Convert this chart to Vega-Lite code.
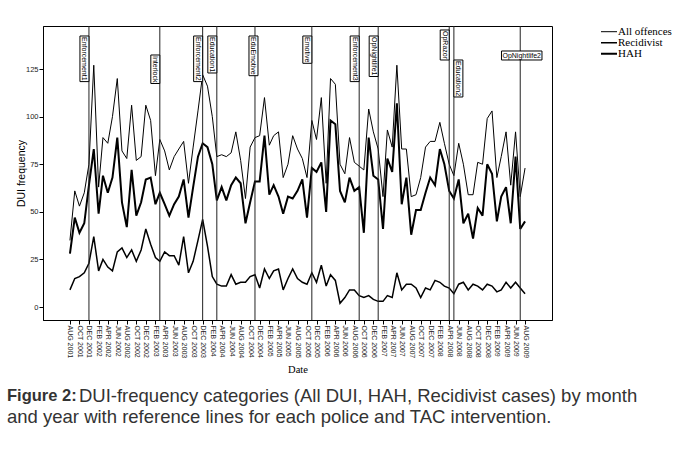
{
  "$schema": "https://vega.github.io/schema/vega-lite/v6.json",
  "width": 509,
  "height": 294,
  "autosize": "none",
  "padding": {"left": 43, "top": 26, "right": 124, "bottom": 130},
  "background": "white",
  "config": {
    "view": {"stroke": "#000", "strokeWidth": 1},
    "font": "Liberation Sans"
  },
  "title": {
    "text": "Figure 2:",
    "subtitle": ["\u200b\u00a0\u00a0\u00a0\u00a0\u00a0\u00a0\u00a0\u00a0\u00a0\u00a0\u00a0\u00a0\u00a0\u00a0DUI-frequency categories (All DUI, HAH, Recidivist cases) by month", "and year with reference lines for each police and TAC intervention."],
    "orient": "bottom",
    "anchor": "start",
    "frame": "group",
    "dx": -36,
    "offset": 13,
    "font": "Liberation Sans",
    "fontSize": 16.5,
    "fontWeight": "bold",
    "color": "#333",
    "subtitleFont": "Liberation Sans",
    "subtitleFontSize": 18.5,
    "subtitleFontWeight": "normal",
    "subtitleColor": "#333",
    "subtitlePadding": -18.1,
    "subtitleLineHeight": 21
  },
  "datasets": {
    "dui": [
      {"month": "2001-08-01", "All offences": 35, "Recidivist": 9, "HAH": 28},
      {"month": "2001-09-01", "All offences": 61, "Recidivist": 15, "HAH": 47},
      {"month": "2001-10-01", "All offences": 53, "Recidivist": 16, "HAH": 39},
      {"month": "2001-11-01", "All offences": 60, "Recidivist": 18, "HAH": 44},
      {"month": "2001-12-01", "All offences": 75, "Recidivist": 23, "HAH": 64},
      {"month": "2002-01-01", "All offences": 127, "Recidivist": 37, "HAH": 83},
      {"month": "2002-02-01", "All offences": 63, "Recidivist": 19, "HAH": 49},
      {"month": "2002-03-01", "All offences": 89, "Recidivist": 25, "HAH": 69},
      {"month": "2002-04-01", "All offences": 86, "Recidivist": 21, "HAH": 60},
      {"month": "2002-05-01", "All offences": 100, "Recidivist": 19, "HAH": 68},
      {"month": "2002-06-01", "All offences": 120, "Recidivist": 29, "HAH": 89},
      {"month": "2002-07-01", "All offences": 82, "Recidivist": 31, "HAH": 55},
      {"month": "2002-08-01", "All offences": 78, "Recidivist": 26, "HAH": 42},
      {"month": "2002-09-01", "All offences": 106, "Recidivist": 30, "HAH": 72},
      {"month": "2002-10-01", "All offences": 77, "Recidivist": 24, "HAH": 48},
      {"month": "2002-11-01", "All offences": 79, "Recidivist": 30, "HAH": 55},
      {"month": "2002-12-01", "All offences": 106, "Recidivist": 41, "HAH": 67},
      {"month": "2003-01-01", "All offences": 98, "Recidivist": 33, "HAH": 68},
      {"month": "2003-02-01", "All offences": 69, "Recidivist": 26, "HAH": 54},
      {"month": "2003-03-01", "All offences": 88, "Recidivist": 24, "HAH": 60},
      {"month": "2003-04-01", "All offences": 82, "Recidivist": 29, "HAH": 54},
      {"month": "2003-05-01", "All offences": 72, "Recidivist": 27, "HAH": 48},
      {"month": "2003-06-01", "All offences": 79, "Recidivist": 27, "HAH": 54},
      {"month": "2003-07-01", "All offences": 83, "Recidivist": 22, "HAH": 58},
      {"month": "2003-08-01", "All offences": 87, "Recidivist": 37, "HAH": 67},
      {"month": "2003-09-01", "All offences": 65, "Recidivist": 18, "HAH": 47},
      {"month": "2003-10-01", "All offences": 84, "Recidivist": 24, "HAH": 63},
      {"month": "2003-11-01", "All offences": 103, "Recidivist": 35, "HAH": 79},
      {"month": "2003-12-01", "All offences": 122, "Recidivist": 46, "HAH": 86},
      {"month": "2004-01-01", "All offences": 116, "Recidivist": 32, "HAH": 84},
      {"month": "2004-02-01", "All offences": 100, "Recidivist": 16, "HAH": 75},
      {"month": "2004-03-01", "All offences": 79, "Recidivist": 12, "HAH": 56},
      {"month": "2004-04-01", "All offences": 80, "Recidivist": 11, "HAH": 63},
      {"month": "2004-05-01", "All offences": 79, "Recidivist": 11, "HAH": 56},
      {"month": "2004-06-01", "All offences": 81, "Recidivist": 17, "HAH": 64},
      {"month": "2004-07-01", "All offences": 92, "Recidivist": 12, "HAH": 68},
      {"month": "2004-08-01", "All offences": 77, "Recidivist": 13, "HAH": 65},
      {"month": "2004-09-01", "All offences": 57, "Recidivist": 13, "HAH": 44},
      {"month": "2004-10-01", "All offences": 84, "Recidivist": 16, "HAH": 55},
      {"month": "2004-11-01", "All offences": 89, "Recidivist": 17, "HAH": 66},
      {"month": "2004-12-01", "All offences": 90, "Recidivist": 10, "HAH": 66},
      {"month": "2005-01-01", "All offences": 110, "Recidivist": 20, "HAH": 90},
      {"month": "2005-02-01", "All offences": 85, "Recidivist": 15, "HAH": 59},
      {"month": "2005-03-01", "All offences": 90, "Recidivist": 19, "HAH": 64},
      {"month": "2005-04-01", "All offences": 92, "Recidivist": 20, "HAH": 58},
      {"month": "2005-05-01", "All offences": 68, "Recidivist": 9, "HAH": 49},
      {"month": "2005-06-01", "All offences": 75, "Recidivist": 15, "HAH": 58},
      {"month": "2005-07-01", "All offences": 90, "Recidivist": 20, "HAH": 57},
      {"month": "2005-08-01", "All offences": 83, "Recidivist": 15, "HAH": 61},
      {"month": "2005-09-01", "All offences": 78, "Recidivist": 13, "HAH": 67},
      {"month": "2005-10-01", "All offences": 68, "Recidivist": 12, "HAH": 47},
      {"month": "2005-11-01", "All offences": 98, "Recidivist": 18, "HAH": 73},
      {"month": "2005-12-01", "All offences": 88, "Recidivist": 13, "HAH": 71},
      {"month": "2006-01-01", "All offences": 110, "Recidivist": 22, "HAH": 76},
      {"month": "2006-02-01", "All offences": 65, "Recidivist": 11, "HAH": 50},
      {"month": "2006-03-01", "All offences": 120, "Recidivist": 17, "HAH": 98},
      {"month": "2006-04-01", "All offences": 117, "Recidivist": 14, "HAH": 96},
      {"month": "2006-05-01", "All offences": 75, "Recidivist": 2, "HAH": 61},
      {"month": "2006-06-01", "All offences": 70, "Recidivist": 5, "HAH": 55},
      {"month": "2006-07-01", "All offences": 89, "Recidivist": 9, "HAH": 68},
      {"month": "2006-08-01", "All offences": 76, "Recidivist": 9, "HAH": 61},
      {"month": "2006-09-01", "All offences": 74, "Recidivist": 6, "HAH": 63},
      {"month": "2006-10-01", "All offences": 72, "Recidivist": 5, "HAH": 39},
      {"month": "2006-11-01", "All offences": 104, "Recidivist": 6, "HAH": 89},
      {"month": "2006-12-01", "All offences": 92, "Recidivist": 4, "HAH": 69},
      {"month": "2007-01-01", "All offences": 83, "Recidivist": 3, "HAH": 67},
      {"month": "2007-02-01", "All offences": 58, "Recidivist": 3, "HAH": 41},
      {"month": "2007-03-01", "All offences": 93, "Recidivist": 6, "HAH": 78},
      {"month": "2007-04-01", "All offences": 84, "Recidivist": 5, "HAH": 71},
      {"month": "2007-05-01", "All offences": 127, "Recidivist": 18, "HAH": 107},
      {"month": "2007-06-01", "All offences": 83, "Recidivist": 9, "HAH": 54},
      {"month": "2007-07-01", "All offences": 83, "Recidivist": 12, "HAH": 68},
      {"month": "2007-08-01", "All offences": 58, "Recidivist": 12, "HAH": 38},
      {"month": "2007-09-01", "All offences": 59, "Recidivist": 10, "HAH": 51},
      {"month": "2007-10-01", "All offences": 68, "Recidivist": 5, "HAH": 51},
      {"month": "2007-11-01", "All offences": 84, "Recidivist": 10, "HAH": 60},
      {"month": "2007-12-01", "All offences": 87, "Recidivist": 9, "HAH": 68},
      {"month": "2008-01-01", "All offences": 87, "Recidivist": 14, "HAH": 64},
      {"month": "2008-02-01", "All offences": 97, "Recidivist": 13, "HAH": 83},
      {"month": "2008-03-01", "All offences": 86, "Recidivist": 11, "HAH": 75},
      {"month": "2008-04-01", "All offences": 75, "Recidivist": 10, "HAH": 61},
      {"month": "2008-05-01", "All offences": 69, "Recidivist": 7, "HAH": 57},
      {"month": "2008-06-01", "All offences": 86, "Recidivist": 12, "HAH": 67},
      {"month": "2008-07-01", "All offences": 75, "Recidivist": 13, "HAH": 44},
      {"month": "2008-08-01", "All offences": 59, "Recidivist": 9, "HAH": 49},
      {"month": "2008-09-01", "All offences": 59, "Recidivist": 12, "HAH": 36},
      {"month": "2008-10-01", "All offences": 76, "Recidivist": 11, "HAH": 52},
      {"month": "2008-11-01", "All offences": 75, "Recidivist": 9, "HAH": 48},
      {"month": "2008-12-01", "All offences": 99, "Recidivist": 12, "HAH": 75},
      {"month": "2009-01-01", "All offences": 103, "Recidivist": 11, "HAH": 70},
      {"month": "2009-02-01", "All offences": 68, "Recidivist": 8, "HAH": 45},
      {"month": "2009-03-01", "All offences": 79, "Recidivist": 9, "HAH": 58},
      {"month": "2009-04-01", "All offences": 92, "Recidivist": 13, "HAH": 63},
      {"month": "2009-05-01", "All offences": 64, "Recidivist": 10, "HAH": 44},
      {"month": "2009-06-01", "All offences": 92, "Recidivist": 13, "HAH": 79},
      {"month": "2009-07-01", "All offences": 58, "Recidivist": 10, "HAH": 41},
      {"month": "2009-08-01", "All offences": 73, "Recidivist": 7, "HAH": 45}
    ],
    "events": [
      {"month": "2001-12-01", "name": "Enforcement1"},
      {"month": "2003-03-01", "name": "Interlock"},
      {"month": "2003-12-01", "name": "Enforcement2"},
      {"month": "2004-03-01", "name": "Education1"},
      {"month": "2004-11-01", "name": "EduEmotive"},
      {"month": "2005-11-01", "name": "Emotive"},
      {"month": "2006-09-01", "name": "Enforcement3"},
      {"month": "2007-01-01", "name": "OpNightlife1"},
      {"month": "2008-04-01", "name": "OpRazor"},
      {"month": "2008-05-01", "name": "Education2"},
      {"month": "2009-07-01", "name": "OpNightlife2"}
    ]
  },
  "encoding": {
    "x": {
      "field": "month",
      "type": "temporal",
      "scale": {"type": "utc", "domain": [{"year": 2001, "month": 2, "date": 9, "utc": true}, {"year": 2010, "month": 1, "date": 21, "utc": true}]},
      "axis": {
        "title": "Date",
        "titleFont": "Liberation Serif",
        "titleFontSize": 10.5,
        "titleFontWeight": "normal",
        "titleColor": "#000",
        "titlePadding": 7,
        "grid": false,
        "values": [
          {"year": 2001, "month": 8, "date": 1, "utc": true}, {"year": 2001, "month": 10, "date": 1, "utc": true}, {"year": 2001, "month": 12, "date": 1, "utc": true},
          {"year": 2002, "month": 2, "date": 1, "utc": true}, {"year": 2002, "month": 4, "date": 1, "utc": true}, {"year": 2002, "month": 6, "date": 1, "utc": true}, {"year": 2002, "month": 8, "date": 1, "utc": true}, {"year": 2002, "month": 10, "date": 1, "utc": true}, {"year": 2002, "month": 12, "date": 1, "utc": true},
          {"year": 2003, "month": 2, "date": 1, "utc": true}, {"year": 2003, "month": 4, "date": 1, "utc": true}, {"year": 2003, "month": 6, "date": 1, "utc": true}, {"year": 2003, "month": 8, "date": 1, "utc": true}, {"year": 2003, "month": 10, "date": 1, "utc": true}, {"year": 2003, "month": 12, "date": 1, "utc": true},
          {"year": 2004, "month": 2, "date": 1, "utc": true}, {"year": 2004, "month": 4, "date": 1, "utc": true}, {"year": 2004, "month": 6, "date": 1, "utc": true}, {"year": 2004, "month": 8, "date": 1, "utc": true}, {"year": 2004, "month": 10, "date": 1, "utc": true}, {"year": 2004, "month": 12, "date": 1, "utc": true},
          {"year": 2005, "month": 2, "date": 1, "utc": true}, {"year": 2005, "month": 4, "date": 1, "utc": true}, {"year": 2005, "month": 6, "date": 1, "utc": true}, {"year": 2005, "month": 8, "date": 1, "utc": true}, {"year": 2005, "month": 10, "date": 1, "utc": true}, {"year": 2005, "month": 12, "date": 1, "utc": true},
          {"year": 2006, "month": 2, "date": 1, "utc": true}, {"year": 2006, "month": 4, "date": 1, "utc": true}, {"year": 2006, "month": 6, "date": 1, "utc": true}, {"year": 2006, "month": 8, "date": 1, "utc": true}, {"year": 2006, "month": 10, "date": 1, "utc": true}, {"year": 2006, "month": 12, "date": 1, "utc": true},
          {"year": 2007, "month": 2, "date": 1, "utc": true}, {"year": 2007, "month": 4, "date": 1, "utc": true}, {"year": 2007, "month": 6, "date": 1, "utc": true}, {"year": 2007, "month": 8, "date": 1, "utc": true}, {"year": 2007, "month": 10, "date": 1, "utc": true}, {"year": 2007, "month": 12, "date": 1, "utc": true},
          {"year": 2008, "month": 2, "date": 1, "utc": true}, {"year": 2008, "month": 4, "date": 1, "utc": true}, {"year": 2008, "month": 6, "date": 1, "utc": true}, {"year": 2008, "month": 8, "date": 1, "utc": true}, {"year": 2008, "month": 10, "date": 1, "utc": true}, {"year": 2008, "month": 12, "date": 1, "utc": true},
          {"year": 2009, "month": 2, "date": 1, "utc": true}, {"year": 2009, "month": 4, "date": 1, "utc": true}, {"year": 2009, "month": 6, "date": 1, "utc": true}, {"year": 2009, "month": 8, "date": 1, "utc": true}
        ],
        "labelExpr": "upper(utcFormat(datum.value, '%b %Y'))",
        "labelAngle": 90,
        "labelAlign": "left",
        "labelBaseline": "middle",
        "labelFont": "Liberation Sans",
        "labelFontSize": 7,
        "labelColor": "#222",
        "labelPadding": 1,
        "labelOverlap": false,
        "labelFlush": false,
        "tickSize": 4,
        "tickColor": "#000",
        "domainColor": "#000"
      }
    }
  },
  "layer": [
    {
      "data": {"name": "dui"},
      "transform": [{"fold": ["All offences", "Recidivist", "HAH"], "as": ["series", "count"]}],
      "mark": {"type": "line", "color": "#000", "strokeMiterLimit": 3},
      "encoding": {
        "y": {
          "field": "count",
          "type": "quantitative",
          "scale": {"domain": [-6.8, 147.6], "nice": false, "zero": false},
          "axis": {
            "title": "DUI frequency",
            "titleFont": "Liberation Sans",
            "titleFontSize": 10.5,
            "titleFontWeight": "normal",
            "titleColor": "#000",
            "titlePadding": -1,
            "values": [0, 25, 50, 75, 100, 125],
            "grid": false,
            "labelFont": "Liberation Sans",
            "labelFontSize": 7.5,
            "labelColor": "#222",
            "labelPadding": 1,
            "tickSize": 4,
            "tickColor": "#000",
            "domainColor": "#000"
          }
        },
        "strokeWidth": {
          "field": "series",
          "type": "ordinal",
          "scale": {"domain": ["All offences", "Recidivist", "HAH"], "range": [1, 2, 2.8]},
          "legend": {
            "orient": "none",
            "legendX": 557,
            "legendY": 0.7,
            "title": null,
            "symbolType": "stroke",
            "symbolSize": 256,
            "symbolStrokeColor": "#000",
            "labelFont": "Liberation Serif",
            "labelFontSize": 11,
            "labelColor": "#000",
            "labelOffset": 0,
            "clipHeight": 10,
            "rowPadding": 0,
            "padding": 0
          }
        }
      }
    },
    {
      "data": {"name": "events"},
      "mark": {"type": "rule", "color": "#222", "strokeWidth": 1},
      "encoding": {}
    },
    {
      "data": {"name": "events"},
      "mark": {"type": "point", "filled": true, "fill": "#fff", "stroke": "#000", "strokeWidth": 1, "opacity": 1, "size": 400},
      "encoding": {
        "y": {"datum": 145.5},
        "shape": {
          "field": "name",
          "type": "nominal",
          "legend": null,
          "scale": {
            "domain": ["Enforcement1", "Interlock", "Enforcement2", "Education1", "EduEmotive", "Emotive", "Enforcement3", "OpNightlife1", "OpRazor", "Education2", "OpNightlife2"],
            "range": [
              "M-0.9,0.6L0,0.6L0,5.16L-0.9,5.16Z",
              "M-0.9,2.5L0,2.5L0,5.35L-0.9,5.35Z",
              "M-0.9,0.6L0,0.6L0,5.16L-0.9,5.16Z",
              "M-0.9,0.6L0,0.6L0,4.3L-0.9,4.3Z",
              "M-0.6,0.6L0.3,0.6L0.3,4.57L-0.6,4.57Z",
              "M-0.9,0.6L0,0.6L0,3.33L-0.9,3.33Z",
              "M-0.9,0.6L0,0.6L0,5.16L-0.9,5.16Z",
              "M-0.9,0.6L0,0.6L0,4.65L-0.9,4.65Z",
              "M-0.9,0L0,0L0,3L-0.9,3Z",
              "M0,3L0.9,3L0.9,6.7L0,6.7Z",
              "M-1.875,2.1L2.175,2.1L2.175,3L-1.875,3Z"
            ]
          }
        }
      }
    },
    {
      "data": {"name": "events"},
      "transform": [{"filter": {"field": "name", "oneOf": ["Enforcement1", "Enforcement2", "Education1", "Emotive", "Enforcement3", "OpNightlife1"]}}],
      "mark": {"type": "text", "angle": 90, "align": "left", "baseline": "middle", "dx": 1, "dy": 4.5, "font": "Liberation Sans", "fontSize": 7, "color": "#000"},
      "encoding": {"y": {"datum": 142.35}, "text": {"field": "name"}}
    },
    {
      "data": {"name": "events"},
      "transform": [{"filter": {"field": "name", "equal": "OpRazor"}}],
      "mark": {"type": "text", "angle": 90, "align": "left", "baseline": "middle", "dx": 1, "dy": 4.5, "font": "Liberation Sans", "fontSize": 7, "color": "#000"},
      "encoding": {"y": {"datum": 145.5}, "text": {"field": "name"}}
    },
    {
      "data": {"name": "events"},
      "transform": [{"filter": {"field": "name", "equal": "Interlock"}}],
      "mark": {"type": "text", "angle": 90, "align": "left", "baseline": "middle", "dx": 1, "dy": 4.5, "font": "Liberation Sans", "fontSize": 7, "color": "#000"},
      "encoding": {"y": {"datum": 132.37}, "text": {"field": "name"}}
    },
    {
      "data": {"name": "events"},
      "transform": [{"filter": {"field": "name", "equal": "Education2"}}],
      "mark": {"type": "text", "angle": 90, "align": "left", "baseline": "middle", "dx": 1, "dy": -4.5, "font": "Liberation Sans", "fontSize": 7, "color": "#000"},
      "encoding": {"y": {"datum": 129.74}, "text": {"field": "name"}}
    },
    {
      "data": {"name": "events"},
      "transform": [{"filter": {"field": "name", "equal": "EduEmotive"}}],
      "mark": {"type": "text", "angle": 90, "align": "left", "baseline": "middle", "dx": 1, "dy": 1.5, "font": "Liberation Sans", "fontSize": 7, "color": "#000"},
      "encoding": {"y": {"datum": 142.35}, "text": {"field": "name"}}
    },
    {
      "data": {"name": "events"},
      "transform": [{"filter": {"field": "name", "equal": "OpNightlife2"}}],
      "mark": {"type": "text", "angle": 0, "align": "center", "baseline": "middle", "dx": 1.5, "font": "Liberation Sans", "fontSize": 7, "color": "#000"},
      "encoding": {"y": {"datum": 132.1}, "text": {"field": "name"}}
    }
  ]
}
